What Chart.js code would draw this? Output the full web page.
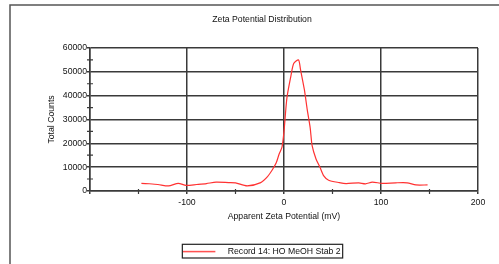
<!DOCTYPE html>
<html>
<head>
<meta charset="utf-8">
<script src="https://cdn.jsdelivr.net/npm/chart.js@4/dist/chart.umd.min.js"></script>
<style>
html,body{margin:0;padding:0;background:#fff;}
#wrap{width:499px;height:264px;position:relative;}
</style>
</head>
<body>
<div id="wrap"><canvas id="c" width="499" height="264"></canvas></div>
<script>
const chartTitle = "Zeta Potential Distribution";
const xAxisTitle = "Apparent Zeta Potential (mV)";
const yAxisTitle = "Total Counts";
const seriesName = "Record 14: HO MeOH Stab 2";
const zetaMv = [-147,-139,-130,-119,-109,-101,-90,-80,-70,-57,-50,-38,-24,-17,-12,-8,-5,-2,0,3,7,10,15,17,21,24,27,29,33,37,41,46,57,64,77,84,91,101,115,127,136,148];
const counts = [3200,3000,2700,2100,3200,2300,2700,3100,3700,3500,3400,2100,3500,6000,8900,11800,15500,18500,25000,39000,48000,53500,55000,51000,42500,34000,26500,19000,13400,10000,6300,4500,3500,3100,3400,3000,3700,3200,3400,3400,2500,2500];
const xTicks = [-200,-100,0,100,200];
const yTicks = [0,10000,20000,30000,40000,50000,60000];
const xMinorTicks = [-150,-50,50,150];
const yMinorTicks = [5000,15000,25000,35000,45000,55000];

const FONT = {family: 'Arial, "Liberation Sans", sans-serif', size: 8.7};
const GRID = '#3a3a3a';

// legend sample image: short red line followed by blank space
const sample = document.createElement('canvas');
sample.width = 40; sample.height = 3;
(function(){const g = sample.getContext('2d'); g.strokeStyle = 'rgb(255,50,50)'; g.lineWidth = 1.3; g.beginPath(); g.moveTo(0,1.5); g.lineTo(32,1.5); g.stroke();})();

const decor = {
  id: 'decor',
  beforeDraw(chart) {
    const ctx = chart.ctx;
    ctx.save();
    ctx.fillStyle = '#fff';
    ctx.fillRect(0,0,chart.width,chart.height);
    ctx.strokeStyle = '#555';
    ctx.lineWidth = 1.5;
    ctx.beginPath();
    ctx.moveTo(10, 264); ctx.lineTo(10, 5); ctx.lineTo(499, 5);
    ctx.stroke();
    ctx.restore();
  },
  afterDraw(chart) {
    const ctx = chart.ctx;
    const xs = chart.scales.x, ys = chart.scales.y;
    ctx.save();
    ctx.strokeStyle = GRID;
    ctx.lineWidth = 1.2;
    ctx.beginPath();
    yMinorTicks.forEach(v => { const y = ys.getPixelForValue(v); ctx.moveTo(xs.left - 3, y); ctx.lineTo(xs.left + 3, y); });
    xMinorTicks.forEach(v => { const x = xs.getPixelForValue(v); ctx.moveTo(x, ys.bottom - 2); ctx.lineTo(x, ys.bottom + 3); });
    ctx.stroke();
    // legend frame
    const hb = chart.legend.legendHitBoxes[0];
    if (hb) {
      ctx.strokeStyle = '#222';
      ctx.lineWidth = 1.2;
      ctx.strokeRect(hb.left - 1, hb.top - 3, hb.width + 3, hb.height + 5);
    }
    ctx.restore();
  }
};

new Chart(document.getElementById('c'), {
  type: 'line',
  data: {
    datasets: [{
      label: seriesName,
      data: zetaMv.map((x, i) => ({x: x, y: counts[i]})),
      borderColor: 'rgb(255,50,50)',
      backgroundColor: 'rgb(255,50,50)',
      borderWidth: 1.2,
      pointRadius: 0,
      tension: 0.25,
      fill: false
    }]
  },
  options: {
    responsive: false,
    animation: false,
    devicePixelRatio: 1,
    layout: {padding: {left: 46, right: 21, top: 0, bottom: -2}},
    plugins: {
      title: {display: true, text: chartTitle, color: '#111', font: {...FONT, weight: 'normal'}, padding: {top: 14.8, bottom: 22.8}},
      legend: {
        display: true, position: 'bottom',
        labels: {color: '#111', font: FONT, usePointStyle: true, pointStyle: sample, pointStyleWidth: 40, padding: 0, boxHeight: 3}
      },
      tooltip: {enabled: false}
    },
    scales: {
      x: {
        type: 'linear', min: -200, max: 200,
        afterBuildTicks: s => { s.ticks = xTicks.map(v => ({value: v})); },
        ticks: {color: '#111', font: FONT, padding: 3.4, maxRotation: 0, autoSkip: false,
          callback: v => (v === -200 ? '' : String(v))},
        grid: {color: GRID, lineWidth: 1.5, tickLength: 3, tickColor: GRID},
        border: {color: GRID, width: 1.5},
        title: {display: true, text: xAxisTitle, color: '#111', font: FONT, padding: {top: 0, bottom: 25.7}}
      },
      y: {
        type: 'linear', min: 0, max: 60000,
        afterBuildTicks: s => { s.ticks = yTicks.map(v => ({value: v})); },
        afterFit: s => { s.width = 44; },
        ticks: {color: '#111', font: FONT, padding: 0, autoSkip: false, callback: v => String(v)},
        grid: {color: GRID, lineWidth: 1.5, tickLength: 3, tickColor: GRID},
        border: {color: GRID, width: 1.5},
        title: {display: true, text: yAxisTitle, color: '#111', font: FONT, padding: {top: 0, bottom: 0}}
      }
    }
  },
  plugins: [decor]
});
</script>
</body>
</html>
